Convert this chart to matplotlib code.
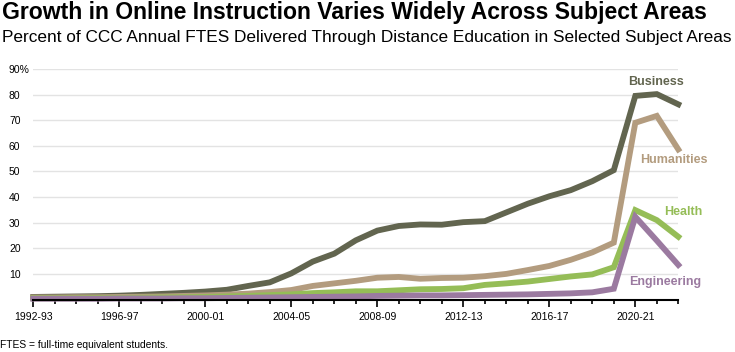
import matplotlib
matplotlib.use('Agg')
import matplotlib.pyplot as plt
from matplotlib.ticker import MultipleLocator

# academic years 1992-93 .. 2022-23
years = ['%d-%02d' % (y, (y + 1) % 100) for y in range(1992, 2023)]

business = [1.0, 1.1, 1.2, 1.3, 1.5, 1.8, 2.2, 2.6, 3.1, 3.8, 5.3, 6.7, 10.2, 14.8, 17.9,
            23.1, 26.9, 28.7, 29.3, 29.2, 30.2, 30.6, 34.0, 37.4, 40.3, 42.7, 46.2, 50.5,
            79.5, 80.2, 76.2]
humanities = [0.8, 0.8, 0.9, 0.9, 1.0, 1.1, 1.2, 1.4, 1.6, 1.9, 2.3, 2.9, 3.7, 5.3, 6.3,
              7.3, 8.5, 8.8, 8.1, 8.4, 8.5, 9.1, 10.0, 11.5, 13.1, 15.5, 18.4, 22.2,
              69.0, 71.7, 58.6]
health = [0.5, 0.5, 0.5, 0.6, 0.6, 0.7, 0.8, 0.9, 1.0, 1.2, 1.4, 1.7, 2.0, 2.5, 2.8,
          3.2, 3.2, 3.6, 4.0, 4.1, 4.4, 5.7, 6.3, 7.0, 8.0, 9.0, 9.8, 12.6,
          34.9, 31.0, 24.5]
engineering = [0.3, 0.3, 0.3, 0.3, 0.4, 0.4, 0.4, 0.5, 0.5, 0.6, 0.7, 0.8, 0.9, 1.0, 1.1,
               1.2, 1.4, 1.5, 1.6, 1.6, 1.7, 1.8, 1.9, 2.0, 2.2, 2.4, 2.8, 4.2,
               32.3, 23.0, 13.5]

series = [('Business', business, '#62654f'),
          ('Humanities', humanities, '#b39c7f'),
          ('Health', health, '#95bd57'),
          ('Engineering', engineering, '#9b7aa0')]

plt.rcParams['font.family'] = ['Liberation Sans', 'DejaVu Sans']

fig = plt.figure(figsize=(7.35, 3.52), dpi=100)
ax = fig.add_axes([33.3 / 735, 1 - 299.5 / 352, 645 / 735, 230.5 / 352])

x = list(range(len(years)))
for name, vals, col in series:
    ax.plot(x, vals, color=col, lw=4.2, solid_joinstyle='miter', clip_on=False, zorder=3)

ax.set_xlim(0, 30)
ax.set_ylim(0, 90)
ax.set_yticks(range(10, 100, 10))
ax.set_yticklabels([str(v) for v in range(10, 90, 10)] + ['90%'], fontsize=7.5)
for lab in ax.get_yticklabels():
    lab.set_horizontalalignment('left')
ax.tick_params(axis='y', length=0, pad=17.5)
ax.grid(axis='y', color='#e3e3e3', lw=1)
ax.set_axisbelow(True)

ax.set_xticks(range(0, 31, 4))
ax.set_xticklabels(years[::4], fontsize=7.5)
ax.xaxis.set_minor_locator(MultipleLocator(1))
ax.tick_params(axis='x', which='major', length=5, width=1.2, direction='out', pad=4)
ax.tick_params(axis='x', which='minor', length=3, width=1.2, direction='out')

for s in ['top', 'right', 'left']:
    ax.spines[s].set_visible(False)
ax.spines['bottom'].set_linewidth(1.5)
ax.spines['bottom'].set_zorder(5)

# series labels
ax.text(28.96, 85.0, 'Business', color='#62654f', fontsize=9, fontweight='bold', ha='center', va='center')
ax.text(29.78, 54.4, 'Humanities', color='#b39c7f', fontsize=9, fontweight='bold', ha='center', va='center')
ax.text(30.22, 34.1, 'Health', color='#95bd57', fontsize=9, fontweight='bold', ha='center', va='center')
ax.text(29.38, 6.9, 'Engineering', color='#9b7aa0', fontsize=9, fontweight='bold', ha='center', va='center')

fig.text(2 / 735, 1 - 12 / 352, 'Growth in Online Instruction Varies Widely Across Subject Areas',
         fontsize=16.55, fontweight='bold', va='center', ha='left')
fig.text(2 / 735, 1 - 37.5 / 352, 'Percent of CCC Annual FTES Delivered Through Distance Education in Selected Subject Areas',
         fontsize=12.4, va='center', ha='left')
fig.text(0.5 / 735, 1 - 345 / 352, 'FTES = full-time equivalent students.', fontsize=7.4, va='center', ha='left')

fig.savefig('out.png', dpi=100)
